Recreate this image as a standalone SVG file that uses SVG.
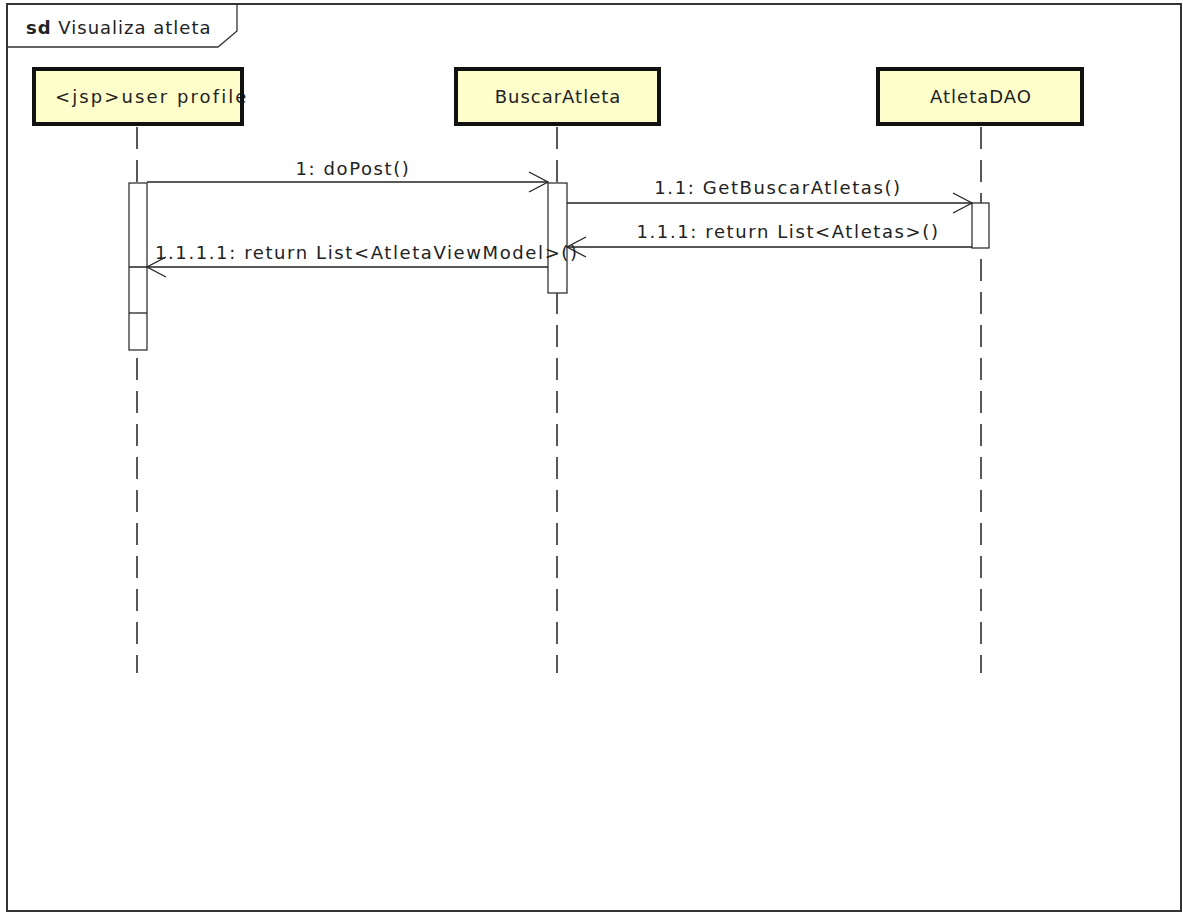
<svg xmlns="http://www.w3.org/2000/svg" width="1183" height="914" viewBox="0 0 1183 914">
<style>
text{font-family:"DejaVu Sans","Liberation Sans",sans-serif;fill:#222;}
.lbl{font-size:18px;letter-spacing:1.6px;}
.box{font-size:18px;letter-spacing:1px;}
.head{fill:#ffffcc;stroke:#111;stroke-width:4;}
.border{fill:none;stroke:#111;stroke-width:4;}
.life{stroke:#222;stroke-width:1.5;stroke-dasharray:22 11;fill:none;}
.act{fill:#fff;stroke:#222;stroke-width:1.2;}
.msg{stroke:#222;stroke-width:1.3;fill:none;}
.ah{stroke:#222;stroke-width:1.3;fill:none;}
</style>
<rect width="1183" height="914" fill="#fff"/>
<g id="frame">
<rect x="7" y="4" width="1174" height="907" fill="none" stroke="#333" stroke-width="2"/>
<path d="M7 47 H218 L237 31 V4" fill="none" stroke="#333" stroke-width="1.3"/>
<text x="26" y="34" font-size="18" letter-spacing="1"><tspan font-weight="bold">sd</tspan> Visualiza atleta</text>
</g>
<g id="lifelines">
<line class="life" x1="137" y1="127" x2="137" y2="673"/>
<line class="life" x1="557" y1="127" x2="557" y2="673"/>
<line class="life" x1="981" y1="127" x2="981" y2="673"/>
</g>
<g id="user_profile">
<rect class="head" x="34" y="69" width="208" height="55"/>
<text class="box" x="55" y="103" style="letter-spacing:2.1px">&lt;jsp&gt;user profile</text>
<rect class="border" x="34" y="69" width="208" height="55"/>
</g>
<g id="BuscarAtleta">
<rect class="head" x="456" y="69" width="203" height="55"/>
<text class="box" x="558" y="103" text-anchor="middle">BuscarAtleta</text>
</g>
<g id="AtletaDAO">
<rect class="head" x="878" y="69" width="204" height="55"/>
<text class="box" x="981" y="103" text-anchor="middle">AtletaDAO</text>
</g>
<g id="activations">
<rect class="act" x="129" y="183" width="18" height="167"/>
<line class="msg" x1="129" y1="313" x2="147" y2="313"/>
<rect class="act" x="548" y="183" width="19" height="110"/>
<rect class="act" x="972" y="203" width="17" height="45"/>
</g>
<g id="connectors">
<line class="msg" x1="147" y1="182" x2="548" y2="182"/>
<path class="ah" d="M529 172 L548 182 L529 192"/>
<text class="lbl" x="353" y="175" text-anchor="middle">1: doPost()</text>
<line class="msg" x1="567" y1="203" x2="972" y2="203"/>
<path class="ah" d="M953 193 L972 203 L953 213"/>
<text class="lbl" x="778" y="194" text-anchor="middle">1.1: GetBuscarAtletas()</text>
<line class="msg" x1="972" y1="247" x2="567" y2="247"/>
<path class="ah" d="M586 237 L567 247 L586 257"/>
<text class="lbl" x="788" y="238" text-anchor="middle">1.1.1: return List&lt;Atletas&gt;()</text>
<line class="msg" x1="548" y1="267" x2="129" y2="267"/>
<path class="ah" d="M166 257 L147 267 L166 277"/>
<text class="lbl" x="155" y="259">1.1.1.1: return List&lt;AtletaViewModel&gt;()</text>
</g>
</svg>
